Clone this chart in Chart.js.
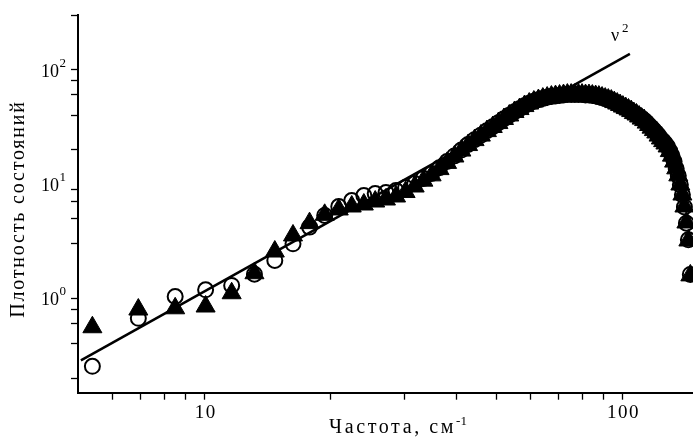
<!DOCTYPE html>
<html>
<head>
<meta charset="utf-8">
<title>Плотность состояний</title>
<script src="https://cdn.jsdelivr.net/npm/chart.js@4.4.1/dist/chart.umd.min.js"></script>
<style>
  html, body { margin: 0; padding: 0; background: #fff; overflow: hidden; }
  #wrap { width: 693px; height: 437px; overflow: hidden; }
  canvas { display: block; }
</style>
</head>
<body>
<div id="wrap"><canvas id="dos" width="720" height="437"></canvas></div>
<script>
// frequencies, cm^-1
const freq = [
  5.38, 6.93, 8.49, 10.04, 11.59, 13.14, 14.70, 16.25, 17.80, 19.35,
  20.91, 22.46, 24.01, 25.56, 27.12, 28.67, 30.22, 31.77, 33.33, 34.88,
  36.43, 37.98, 39.54, 41.09, 42.64, 44.19, 45.75, 47.30, 48.85, 50.40,
  51.96, 53.51, 55.06, 56.61, 58.17, 59.72, 61.27, 62.82, 64.38, 65.93,
  67.48, 69.03, 70.59, 72.14, 73.69, 75.24, 76.80, 78.35, 79.90, 81.45,
  83.01, 84.56, 86.11, 87.66, 89.22, 90.77, 92.32, 93.87, 95.43, 96.98,
  98.53, 100.08, 101.64, 103.19, 104.74, 106.29, 107.85, 109.40, 110.95, 112.50,
  114.06, 115.61, 117.16, 118.71, 120.27, 121.82, 123.37, 124.92, 126.48, 128.03,
  129.58, 131.13, 132.69, 134.24, 135.79, 137.34, 138.90, 140.45, 142.00, 143.55,
  145.11
];

// open circles
const dosCircles = [
  0.255, 0.67, 1.04, 1.19, 1.30, 1.63, 2.15, 3.00, 4.20, 5.31,
  6.36, 7.18, 7.94, 8.26, 8.43, 8.78, 9.32, 10.1, 11.2, 12.35,
  13.9, 15.7, 17.6, 19.8, 22.1, 24.4, 26.7, 29.2, 31.6, 34.3,
  37.2, 39.9, 42.8, 45.4, 48.2, 50.7, 52.8, 54.4, 56.0, 57.2,
  58.3, 58.9, 59.5, 60.0, 60.6, 60.6, 60.6, 60.6, 60.5, 60.0,
  59.9, 59.3, 58.7, 58.0, 57.0, 55.8, 54.6, 53.5, 52.0, 50.4,
  48.9, 47.5, 46.0, 44.7, 43.3, 41.6, 40.4, 38.8, 37.3, 36.1,
  34.4, 32.7, 31.1, 29.5, 28.1, 26.5, 24.9, 23.7, 22.5, 21.2,
  19.4, 17.7, 15.7, 13.6, 11.8, 9.85, 8.05, 6.30, 4.55, 3.25,
  1.62
];

// filled triangles
const dosTriangles = [
  0.56, 0.80, 0.82, 0.85, 1.11, 1.66, 2.57, 3.55, 4.55, 5.38,
  5.99, 6.36, 6.62, 7.03, 7.32, 7.78, 8.51, 9.51, 10.7, 11.9,
  13.5, 15.3, 17.4, 19.6, 21.9, 24.2, 26.5, 29.0, 31.5, 34.1,
  37.0, 39.7, 42.6, 45.2, 48.0, 50.5, 52.6, 54.2, 55.8, 57.0,
  58.1, 58.7, 59.3, 59.9, 60.5, 60.5, 60.5, 60.5, 60.5, 59.9,
  59.9, 59.3, 58.7, 58.1, 57.0, 55.8, 54.7, 53.6, 52.0, 50.5,
  49.0, 47.5, 46.1, 44.8, 43.4, 41.7, 40.5, 38.9, 37.3, 36.2,
  34.4, 32.8, 31.1, 29.6, 28.2, 26.5, 25.0, 23.7, 22.6, 21.3,
  19.4, 17.7, 15.7, 13.7, 11.9, 9.90, 8.09, 6.36, 4.61, 3.21,
  1.59
];

// nu^2 guide line, two end points
const fitX = [5.05, 104];
const fitY = [0.287, 137];

const xTicks = [6, 7, 8, 9, 10, 20, 30, 40, 50, 60, 70, 80, 90, 100];
const xLabels = [10, 100];
const yTicks = [0.2, 0.3, 0.4, 0.5, 0.6, 0.7, 0.8, 0.9, 1, 2, 3, 4, 5, 6, 7, 8, 9,
  10, 20, 30, 40, 50, 60, 70, 80, 90, 100, 200, 300];
const yLabels = [1, 10, 100];
const yExponents = ['0', '1', '2'];

const serif = '"Liberation Serif", "Times New Roman", serif';

// tick labels with superscripts, axis titles and the nu^2 note
const textPlugin = {
  id: 'texts',
  afterDraw(chart) {
    const ctx = chart.ctx;
    const xs = chart.scales.x, ys = chart.scales.y;
    const area = chart.chartArea;
    ctx.save();
    ctx.fillStyle = '#000';
    ctx.textBaseline = 'alphabetic';

    // y decades: 10^n
    yLabels.forEach((v, i) => {
      const py = ys.getPixelForValue(v);
      const right = area.left - 12;
      ctx.font = '13px ' + serif;
      ctx.textAlign = 'right';
      const ew = ctx.measureText(yExponents[i]).width;
      ctx.fillText(yExponents[i], right, py - 3);
      ctx.font = '18px ' + serif;
      ctx.fillText('10', right - ew - 0.5, py + 7);
    });

    // x labels
    ctx.textAlign = 'center';
    ctx.font = '19px ' + serif;
    ctx.letterSpacing = '1.5px';
    xLabels.forEach(v => {
      ctx.fillText(String(v), xs.getPixelForValue(v) + 0.75, area.bottom + 25);
    });

    // y title
    ctx.save();
    ctx.translate(19, 209);
    ctx.rotate(-Math.PI / 2);
    ctx.font = '20px ' + serif;
    ctx.letterSpacing = '1.8px';
    ctx.textAlign = 'center';
    ctx.textBaseline = 'middle';
    ctx.fillText('Плотность состояний', 0, 0);
    ctx.restore();

    // x title
    const main = 'Частота, см';
    const sup = '-1';
    ctx.textAlign = 'left';
    ctx.letterSpacing = '2.6px';
    ctx.font = '20px ' + serif;
    const mw = ctx.measureText(main).width;
    ctx.letterSpacing = '0px';
    ctx.font = '13px ' + serif;
    const sw = ctx.measureText(sup).width;
    const cx = (area.left + area.right) / 2;
    const x0 = cx - (mw + sw) / 2;
    ctx.letterSpacing = '2.6px';
    ctx.font = '20px ' + serif;
    ctx.fillText(main, x0, 433);
    ctx.letterSpacing = '0px';
    ctx.font = '13px ' + serif;
    ctx.fillText(sup, x0 + mw, 425);

    // nu^2
    const lx = xs.getPixelForValue(fitX[1]);
    const ly = ys.getPixelForValue(fitY[1]);
    ctx.font = '18px ' + serif;
    ctx.fillText('ν', lx - 19, ly - 13);
    ctx.font = '13px ' + serif;
    ctx.fillText('2', lx - 8, ly - 22);
    ctx.restore();
  }
};

const ctx = document.getElementById('dos').getContext('2d');
new Chart(ctx, {
  type: 'scatter',
  data: {
    datasets: [
      {
        label: 'v2',
        data: fitX.map((x, i) => ({ x, y: fitY[i] })),
        showLine: true,
        borderColor: '#000',
        borderWidth: 2.5,
        pointRadius: 0
      },
      {
        label: 'circles',
        data: freq.map((x, i) => ({ x, y: dosCircles[i] })),
        pointStyle: 'circle',
        pointRadius: 7.5,
        borderWidth: 2,
        borderColor: '#000',
        backgroundColor: 'rgba(0,0,0,0)'
      },
      {
        label: 'triangles',
        data: freq.map((x, i) => ({ x, y: dosTriangles[i] })),
        pointStyle: 'triangle',
        pointRadius: 11,
        borderWidth: 1,
        borderColor: '#000',
        backgroundColor: '#000'
      }
    ]
  },
  options: {
    responsive: false,
    animation: false,
    layout: { autoPadding: false, padding: { top: 15, right: 2, left: 0, bottom: 0 } },
    plugins: { legend: { display: false }, tooltip: { enabled: false } },
    scales: {
      x: {
        type: 'logarithmic',
        min: 4.97,
        max: 169,
        afterBuildTicks: (s) => { s.ticks = xTicks.map(v => ({ value: v })); },
        afterFit: (s) => { s.height = 44.3; },
        border: { display: true, color: '#000', width: 2 },
        grid: { drawOnChartArea: false, drawTicks: true, tickLength: 7, tickColor: '#000', tickWidth: 1.3 },
        ticks: { autoSkip: false, maxRotation: 0, callback: () => '' }
      },
      y: {
        type: 'logarithmic',
        min: 0.15,
        max: 300,
        afterBuildTicks: (s) => { s.ticks = yTicks.map(v => ({ value: v })); },
        afterFit: (s) => { s.width = 78; },
        border: { display: true, color: '#000', width: 2 },
        grid: { drawOnChartArea: false, drawTicks: true, tickLength: 7, tickColor: '#000', tickWidth: 1.3 },
        ticks: { callback: () => '' }
      }
    }
  },
  plugins: [textPlugin]
});
</script>
</body>
</html>
